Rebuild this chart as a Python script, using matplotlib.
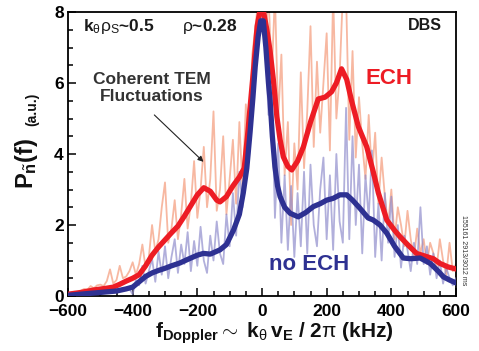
import matplotlib
matplotlib.use("Agg")
import matplotlib.pyplot as plt
from matplotlib.ticker import MultipleLocator

plt.rcParams['font.family'] = ['Liberation Sans', 'DejaVu Sans']
plt.rcParams['mathtext.fontset'] = 'custom'
plt.rcParams['mathtext.rm'] = 'Liberation Sans'
plt.rcParams['mathtext.bf'] = 'Liberation Sans:bold'
plt.rcParams['mathtext.it'] = 'Liberation Sans:italic'
plt.rcParams['mathtext.sf'] = 'Liberation Sans'

# ---------------- data ----------------
ech_f = [-600, -560, -520, -480, -460, -440, -420, -400, -380, -360, -340, -320, -300, -280,
         -260, -240, -220, -200, -180, -160, -140, -130, -110, -90, -70, -55, -45, -35, -25,
         -15, -5, 5, 15, 25, 35, 46, 56, 66, 80, 92, 110, 128, 150, 174, 195, 215, 230, 246,
         262, 277, 298, 324, 344, 360, 386, 410, 427, 450, 478, 509, 530, 550, 575, 600]
ech_p = [0.05, 0.1, 0.17, 0.22, 0.25, 0.33, 0.42, 0.5, 0.6, 0.85, 1.15, 1.38, 1.58, 1.78,
         1.97, 2.25, 2.55, 2.85, 3.05, 2.95, 2.7, 2.65, 2.8, 3.1, 3.35, 3.6, 4.5, 5.5, 6.5,
         7.6, 8.1, 8.0, 7.5, 6.9, 6.1, 5.05, 4.4, 3.92, 3.65, 3.55, 3.8, 4.2, 4.9, 5.55, 5.6,
         5.75, 6.0, 6.4, 6.1, 5.5, 4.77, 4.2, 3.5, 2.9, 2.14, 1.85, 1.67, 1.45, 1.2, 1.11,
         1.05, 0.92, 0.82, 0.76]

noech_f = [-600, -550, -500, -450, -420, -400, -380, -360, -340, -320, -300, -280, -254, -230,
           -200, -181, -160, -130, -110, -88, -70, -58, -47, -37, -28, -21, -12, -4, 4, 12,
           20, 25, 32, 40, 48, 56, 70, 87, 112, 135, 159, 180, 200, 220, 241, 262, 280, 303,
           328, 344, 365, 386, 410, 437, 460, 489, 520, 545, 561, 580, 602]
noech_p = [0.02, 0.06, 0.1, 0.14, 0.2, 0.25, 0.4, 0.55, 0.65, 0.72, 0.78, 0.85, 0.93, 1.03,
           1.15, 1.2, 1.18, 1.3, 1.45, 1.86, 2.3, 2.9, 3.6, 4.6, 5.6, 6.46, 7.3, 7.75, 7.75,
           7.0, 6.0, 5.5, 4.5, 3.64, 3.1, 2.8, 2.5, 2.33, 2.23, 2.35, 2.52, 2.6, 2.7, 2.75,
           2.85, 2.85, 2.7, 2.47, 2.2, 2.14, 2.0, 1.77, 1.4, 1.07, 1.05, 1.07, 0.92, 0.7,
           0.54, 0.45, 0.36]

raw_f = list(range(-600, 601, 10))
ech_raw = [0.05, 0.08, 0.12, 0.1, 0.15, 0.2, 0.18, 0.28, 0.22, 0.3, 0.32, 0.28, 0.42, 0.75, 0.35,
           0.45, 0.85, 0.5, 0.55, 0.7, 0.95, 0.6, 0.9, 1.45, 0.8, 1.1, 2.0, 1.25, 1.6, 2.5,
           3.2, 1.5, 1.9, 2.7, 1.6, 2.3, 3.3, 1.9, 2.6, 3.8,
           2.2, 3.0, 4.2, 2.5, 3.3, 5.2, 2.4, 3.0, 4.5, 2.3,
           3.3, 4.4, 2.6, 4.9, 3.0, 5.4, 4.2, 6.8, 7.6, 8.5,
           8.5, 7.1, 8.5, 6.2, 8.5, 5.0, 6.8, 3.4, 4.9, 2.0,
           4.3, 3.0, 6.3, 3.6, 5.2, 7.6, 4.2, 6.6, 4.6, 6.0,
           7.4, 4.1, 8.5, 5.0, 6.2, 8.5, 8.5, 4.4, 6.9, 3.9,
           5.6, 4.3, 3.3, 5.1, 3.4, 4.6, 2.6, 3.9, 2.8, 2.0,
           3.0, 1.6, 2.5, 2.0, 1.4, 2.4, 1.6, 1.1, 1.9, 1.2,
           1.6, 0.9, 1.5, 1.2, 0.8, 1.6, 1.0, 0.6, 1.5, 0.7, 0.9]
noech_raw = [0.02, 0.03, 0.05, 0.04, 0.06, 0.08, 0.06, 0.1, 0.09, 0.12, 0.1, 0.13, 0.15, 0.12,
             0.17, 0.2, 0.16, 0.22, 0.18, 0.2,
             0.05, 0.45, 0.3, 0.85, 0.35, 0.7, 1.05, 0.4, 1.25, 0.6,
             1.4, 0.5, 1.1, 1.6, 0.65, 1.45, 0.9, 1.8, 0.7, 1.55,
             0.85, 1.95, 1.0, 0.65, 1.7, 1.0, 2.1, 1.2, 0.9, 2.3,
             1.4, 2.9, 1.7, 3.5, 2.5, 4.1, 3.9, 5.4, 6.3, 7.5,
             7.9, 7.3, 5.1, 5.9, 2.2, 4.3, 1.5, 3.4, 1.3, 3.1,
             1.1, 2.9, 1.4, 3.5, 1.2, 3.7, 2.0, 1.4, 3.0, 3.9,
             1.6, 3.4, 1.3, 4.0, 2.1, 1.5, 5.3, 1.6, 4.5, 2.0,
             3.7, 1.2, 3.4, 2.2, 4.1, 1.1, 2.6, 1.0, 2.9, 1.5,
             2.8, 1.1, 2.0, 0.8, 1.7, 1.3, 0.7, 1.5, 0.9, 2.5,
             0.9, 1.4, 0.6, 1.2, 0.5, 1.0, 0.35, 0.8, 0.5, 0.3, 0.5]

x_ticks = [-600, -400, -200, 0, 200, 400, 600]
y_ticks = [0, 2, 4, 6, 8]

RED = '#ed1c24'
BLUE = '#2e3192'

# ---------------- figure ----------------
fig = plt.figure(figsize=(4.79, 3.51), dpi=100)
W, H = 479, 351
ax = fig.add_axes([68 / W, 1 - 296 / H, (456 - 68) / W, (296 - 12) / H])

ax.plot(raw_f, ech_raw, color='#f49a7a', alpha=0.7, lw=1.3, zorder=2)
ax.plot(raw_f, noech_raw, color='#8d8acb', alpha=0.68, lw=1.3, zorder=3)
ax.plot(ech_f, ech_p, color=RED, lw=3.8, zorder=4, solid_capstyle='round')
ax.plot(noech_f, noech_p, color=BLUE, lw=3.8, zorder=5, solid_capstyle='round')

ax.set_xlim(-600, 600)
ax.set_ylim(0, 8)
ax.set_xticks(x_ticks)
ax.set_yticks(y_ticks)
ax.xaxis.set_minor_locator(MultipleLocator(50))
ax.yaxis.set_minor_locator(MultipleLocator(0.5))
ax.tick_params(which='both', direction='in', top=False, right=False, width=1.1,
               labelsize=12.5)
ax.tick_params(axis='x', which='major', pad=6)
ax.tick_params(axis='y', which='major', pad=3)
ax.tick_params(which='major', length=6)
ax.tick_params(which='minor', length=3.5)
for lab in ax.get_xticklabels() + ax.get_yticklabels():
    lab.set_fontweight('bold')
for sp in ax.spines.values():
    sp.set_linewidth(1.3)


def px(x, y):
    return (x / W, 1 - y / H)


# annotations
fig.text(*px(83, 27), r'$\mathbf{k}_{\mathrm{\theta}}\mathrm{\rho}_{\mathrm{S}}$' + '~0.5',
         fontsize=12.5, fontweight='bold', ha='left', va='center', color='#1a1a1a')
fig.text(*px(182, 27), r'$\mathrm{\rho}$' + '~0.28', fontsize=12.5, fontweight='bold',
         ha='left', va='center', color='#1a1a1a')
fig.text(*px(425, 25), 'DBS', fontsize=11.5, fontweight='bold', ha='center', va='center',
         color='#1a1a1a')
fig.text(*px(152, 88), 'Coherent TEM\nFluctuations', fontsize=12.5, fontweight='bold',
         ha='center', va='center', color='#333333', linespacing=1.1)
ax.annotate('', xy=(-181, 3.78), xytext=(-333, 5.1),
            arrowprops=dict(arrowstyle='-|>', color='#222222', lw=0.8,
                            mutation_scale=8, shrinkA=0, shrinkB=0), zorder=6)
fig.text(*px(389, 79), 'ECH', fontsize=16, fontweight='bold', ha='center', va='center',
         color=RED)
fig.text(*px(309, 265), 'no ECH', fontsize=16, fontweight='bold', ha='center', va='center',
         color=BLUE)

# axis labels
fig.text(*px(274, 333),
         r'$\mathbf{f}_{\mathbf{Doppler}}\mathbf{\sim\ k}_{\mathrm{\theta}}\,\mathbf{v}_{\mathbf{E}}'
         r'\ \mathbf{/\ 2}\mathrm{\pi}\ \mathbf{(kHz)}$',
         fontsize=15, ha='center', va='center', color='#111111')
fig.text(*px(26, 163), r'$\mathbf{P}_{\tilde{\mathbf{n}}}\mathbf{(f)}$', fontsize=17,
         rotation=90, ha='center', va='center', color='#111111')
fig.text(*px(32, 109), '(a.u.)', fontsize=10, fontweight='bold', rotation=90,
         ha='center', va='center', color='#111111')
fig.text(*px(464, 250), '155161 2913/3012 ms', fontsize=5, rotation=-90,
         ha='center', va='center', color='#333333')

fig.savefig('out.png', dpi=100)
